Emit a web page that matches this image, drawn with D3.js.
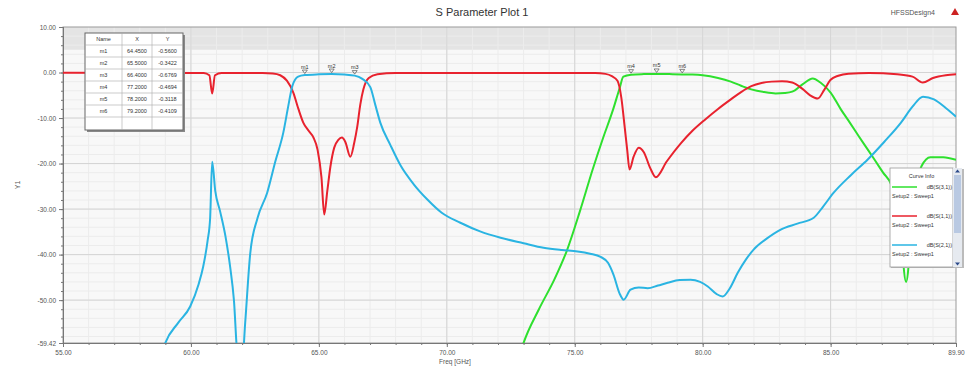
<!DOCTYPE html>
<html>
<head>
<meta charset="utf-8">
<script src="https://cdn.jsdelivr.net/npm/d3@7"></script>
<style>
  body { margin: 0; background: #fff; }
  text { font-family: "Liberation Sans", Arial, sans-serif; }
</style>
</head>
<body>
<svg id="drawspace" width="965" height="373"></svg>
<script>
// curve data: [freq GHz, dB]
const s21 = [[58.8,-63],[59.0,-59.4],[59.5,-55],[59.97,-51.4],[60.3,-46.5],[60.48,-42.6],[60.65,-37],[60.75,-32],[60.83,-19.6],
  [60.95,-26],[61.14,-30.5],[61.35,-36],[61.53,-42.6],[61.68,-50],[61.82,-62],[62.0,-64],[62.12,-55],[62.32,-39.6],
  [62.6,-32],[62.98,-26.4],[63.3,-19.5],[63.61,-13.2],[63.8,-7.5],[63.96,-3],[64.19,-0.9],[64.45,-0.56],[65.0,-0.4],
  [65.5,-0.34],[66.0,-0.45],[66.4,-0.68],[66.7,-1.4],[67.01,-3.2],[67.2,-7],[67.4,-11],[67.8,-16],[68.2,-20.5],
  [68.7,-24.5],[69.24,-27.9],[69.8,-30.8],[70.53,-33],[71.3,-34.9],[72.1,-36.3],[73.0,-37.5],[73.78,-38.5],
  [74.5,-39],[75.11,-39.3],[75.6,-39.8],[76.01,-40.5],[76.3,-41.8],[76.52,-44.5],[76.75,-48.5],[76.91,-49.9],
  [77.18,-47.7],[77.5,-47.2],[77.85,-47.4],[78.25,-46.8],[78.63,-46.2],[79.1,-45.6],[79.53,-45.5],[79.9,-46],
  [80.2,-47],[80.55,-48.7],[80.78,-49.2],[81.05,-47.5],[81.37,-44],[81.7,-41],[81.99,-38.9],[82.5,-36.5],
  [83.05,-34.5],[83.7,-33.2],[84.34,-31.9],[84.7,-29.5],[85.12,-26.4],[85.8,-22.5],[86.45,-19.1],[87.1,-15.2],
  [87.75,-11],[88.2,-7.5],[88.61,-5.3],[89.04,-5.9],[89.5,-7.8],[89.9,-9.7]];

const s11 = [[55,-0.05],[60.5,-0.1],[60.72,-0.6],[60.83,-4.6],[60.94,-0.6],[61.2,-0.1],[62.8,-0.1],[63.2,-0.2],
  [63.49,-0.6],[63.75,-1.8],[64.0,-4.4],[64.2,-8],[64.39,-11],[64.6,-12.8],[64.78,-14.2],[64.95,-17],[65.1,-23],
  [65.21,-31.2],[65.33,-26],[65.45,-20.7],[65.6,-16.5],[65.76,-14.8],[65.9,-14.3],[66.03,-15.2],[66.23,-18.5],
  [66.38,-15.5],[66.5,-11.9],[66.62,-7],[66.74,-3.7],[66.95,-1.2],[67.29,-0.4],[68,-0.1],[75.8,-0.1],[76.2,-0.3],
  [76.45,-0.8],[76.67,-1.8],[76.82,-5.5],[76.95,-11.9],[77.05,-17],[77.14,-21.3],[77.3,-18.5],[77.5,-16.5],
  [77.7,-17.5],[77.95,-21],[78.17,-23],[78.6,-19.5],[79.17,-15.4],[79.6,-12.8],[80.1,-10.3],[80.6,-8],
  [81.1,-5.9],[81.5,-4.3],[81.9,-3.0],[82.3,-2.3],[82.7,-2.0],[83.1,-1.9],[83.5,-2.2],[83.9,-3.6],[84.2,-5],
  [84.5,-5.7],[84.75,-3.8],[85.0,-1.6],[85.3,-0.7],[85.7,-0.25],[86.5,-0.1],[87.6,-0.4],[88.2,-0.9],[88.6,-2.2],
  [89.0,-1.2],[89.5,-0.6],[89.9,-0.4]];

const s31 = [[72.8,-63],[73.0,-59.4],[73.6,-52],[74.2,-45.5],[74.7,-39],[75.2,-30.5],[75.7,-21.3],[76.1,-14.5],
  [76.5,-8.1],[76.75,-3.5],[76.9,-0.9],[77.2,-0.47],[77.7,-0.35],[78.2,-0.31],[78.7,-0.35],[79.2,-0.41],
  [79.6,-0.45],[80.0,-0.6],[80.6,-1.2],[81.1,-2],[81.5,-2.9],[81.9,-3.7],[82.4,-4.3],[82.85,-4.6],[83.2,-4.5],
  [83.5,-4.2],[83.9,-2.6],[84.3,-1.3],[84.6,-2.2],[85.0,-4.4],[85.4,-8.1],[85.75,-11],[86.1,-14],[86.4,-16.5],
  [86.7,-19],[87.05,-22],[87.4,-25],[87.7,-33],[87.95,-46],[88.15,-36],[88.35,-26],[88.55,-20.6],[88.9,-18.6],
  [89.4,-18.6],[89.9,-19.2]];

const curveNames = ["dB(S(3,1))", "dB(S(1,1))", "dB(S(2,1))"];
const curveColors = ["#2ee02e", "#e8222e", "#2ab4e2"];

const markerNames = ["m1", "m2", "m3", "m4", "m5", "m6"];
const markerX = [64.45, 65.5, 66.4, 77.2, 78.2, 79.2];
const markerY = [-0.5600, -0.3422, -0.6769, -0.4694, -0.3118, -0.4109];

const xMajor = [55, 60, 65, 70, 75, 80, 85, 89.9];
const yMajor = [10, 0, -10, -20, -30, -40, -50, -59.42];

let drawSpace = d3.select("#drawspace");

let xScale = d3.scaleLinear().domain([55, 89.9]).range([63, 956]);
let yScale = d3.scaleLinear().domain([-59.42, 10]).range([343, 27]);

const pLeft = 63, pRight = 956, pTop = 27, pBottom = 343;

// plot background
drawSpace.append("rect")
  .attr("x", pLeft).attr("y", pTop).attr("width", pRight - pLeft).attr("height", pBottom - pTop)
  .attr("fill", "#f8f8f8");
drawSpace.append("rect")
  .attr("x", pLeft).attr("y", yScale(10)).attr("width", pRight - pLeft).attr("height", yScale(5) - yScale(10))
  .attr("fill", "#e4e4e4");

// grid lines
let minorX = d3.range(56, 90, 1);
let minorY = d3.range(-58, 10, 2);
drawSpace.append("g").selectAll("line").data(minorX).enter().append("line")
  .attr("x1", d => xScale(d)).attr("x2", d => xScale(d)).attr("y1", pTop).attr("y2", pBottom)
  .attr("stroke", "#ececec").attr("stroke-width", 1);
drawSpace.append("g").selectAll("line").data(minorY).enter().append("line")
  .attr("y1", d => yScale(d)).attr("y2", d => yScale(d)).attr("x1", pLeft).attr("x2", pRight)
  .attr("stroke", "#ececec").attr("stroke-width", 1);
drawSpace.append("g").selectAll("line").data([60, 65, 70, 75, 80, 85]).enter().append("line")
  .attr("x1", d => xScale(d)).attr("x2", d => xScale(d)).attr("y1", pTop).attr("y2", pBottom)
  .attr("stroke", "#d4d4d4").attr("stroke-width", 1);
drawSpace.append("g").selectAll("line").data([0, -10, -20, -30, -40, -50]).enter().append("line")
  .attr("y1", d => yScale(d)).attr("y2", d => yScale(d)).attr("x1", pLeft).attr("x2", pRight)
  .attr("stroke", "#d4d4d4").attr("stroke-width", 1);

drawSpace.append("rect")
  .attr("x", pLeft).attr("y", pTop).attr("width", pRight - pLeft).attr("height", pBottom - pTop)
  .attr("fill", "none").attr("stroke", "#9a9a9a").attr("stroke-width", 1);

// axes
let xAxis = d3.axisBottom(xScale).tickValues(xMajor).tickFormat(d => d.toFixed(2)).tickSize(4).tickPadding(3);
let xMinor = d3.axisBottom(xScale).tickValues(minorX).tickFormat("").tickSize(2);
let yAxis = d3.axisLeft(yScale).tickValues(yMajor).tickFormat(d => d.toFixed(2)).tickSize(4).tickPadding(3);
let yMinor = d3.axisLeft(yScale).tickValues(minorY).tickFormat("").tickSize(2);

[xAxis, xMinor].forEach(a => {
  drawSpace.append("g").attr("transform", `translate(0,${pBottom})`).call(a)
    .call(g => g.select(".domain").attr("stroke", "#777"))
    .call(g => g.selectAll(".tick line").attr("stroke", "#777"))
    .call(g => g.selectAll("text").attr("fill", "#555").style("font-size", "6.5px"));
});
[yAxis, yMinor].forEach(a => {
  drawSpace.append("g").attr("transform", `translate(${pLeft},0)`).call(a)
    .call(g => g.select(".domain").attr("stroke", "#777"))
    .call(g => g.selectAll(".tick line").attr("stroke", "#777"))
    .call(g => g.selectAll("text").attr("fill", "#555").style("font-size", "6.5px"));
});

// titles
drawSpace.append("text").attr("x", 482).attr("y", 16).attr("text-anchor", "middle")
  .style("font-size", "11px").attr("fill", "#333").text("S Parameter Plot 1");
drawSpace.append("text").attr("x", 935).attr("y", 15).attr("text-anchor", "end")
  .style("font-size", "7px").attr("fill", "#555").text("HFSSDesign4");
drawSpace.append("path").attr("d", "M955,8 L959,15 L951,15 Z").attr("fill", "#c22");
drawSpace.append("text").attr("x", 455).attr("y", 364).attr("text-anchor", "middle")
  .style("font-size", "6.5px").attr("fill", "#555").text("Freq [GHz]");
drawSpace.append("text").attr("transform", "translate(20,185) rotate(-90)").attr("text-anchor", "middle")
  .style("font-size", "7px").attr("fill", "#555").text("Y1");

// curves
drawSpace.append("clipPath").attr("id", "plotclip").append("rect")
  .attr("x", pLeft).attr("y", pTop).attr("width", pRight - pLeft).attr("height", pBottom - pTop);

let line = d3.line().x(d => xScale(d[0])).y(d => yScale(d[1])).curve(d3.curveMonotoneX);
let curves = [s31, s11, s21];
let curveG = drawSpace.append("g").attr("clip-path", "url(#plotclip)");
curveG.selectAll("path").data(curves).enter().append("path")
  .attr("d", d => line(d))
  .attr("fill", "none")
  .attr("stroke", (d, i) => curveColors[i])
  .attr("stroke-width", 2)
  .attr("stroke-linejoin", "round");

// markers
let mk = drawSpace.append("g");
markerNames.forEach((name, i) => {
  let px = xScale(markerX[i]), py = yScale(markerY[i]);
  mk.append("path").attr("d", `M${px - 2.5},${py - 5} L${px + 2.5},${py - 5} L${px},${py - 1.5} Z`)
    .attr("fill", "none").attr("stroke", "#555").attr("stroke-width", 0.7);
  mk.append("text").attr("x", px).attr("y", py - 6.5).attr("text-anchor", "middle")
    .style("font-size", "5.5px").attr("fill", "#333").text(name);
});

// marker table
const tX = 85, tY = 33, colW = [37, 30, 31], rowH = 12;
let tableRows = [["Name", "X", "Y"]].concat(markerNames.map((n, i) => [n, markerX[i].toFixed(4), markerY[i].toFixed(4)]));
tableRows.push(["", "", ""]);
let tW = d3.sum(colW), tH = rowH * tableRows.length + 1;
let tbl = drawSpace.append("g");
tbl.append("rect").attr("x", tX + 2).attr("y", tY + 2).attr("width", tW).attr("height", tH).attr("fill", "#888");
tbl.append("rect").attr("x", tX).attr("y", tY).attr("width", tW).attr("height", tH)
  .attr("fill", "#fff").attr("stroke", "#666").attr("stroke-width", 1);
tableRows.forEach((r, ri) => {
  if (ri > 0) tbl.append("line").attr("x1", tX).attr("x2", tX + tW)
    .attr("y1", tY + ri * rowH).attr("y2", tY + ri * rowH).attr("stroke", "#aaa").attr("stroke-width", 0.6);
  let cx = tX;
  r.forEach((c, ci) => {
    tbl.append("text").attr("x", cx + colW[ci] / 2).attr("y", tY + ri * rowH + 8.3)
      .attr("text-anchor", "middle").style("font-size", "5.5px").attr("fill", "#333").text(c);
    cx += colW[ci];
  });
});
[colW[0], colW[0] + colW[1]].forEach(o => {
  tbl.append("line").attr("x1", tX + o).attr("x2", tX + o).attr("y1", tY).attr("y2", tY + tH)
    .attr("stroke", "#aaa").attr("stroke-width", 0.6);
});

// curve info legend
const lX = 890, lY = 168, lW = 63, lH = 99;
let lg = drawSpace.append("g");
lg.append("rect").attr("x", lX + 1).attr("y", lY + 1).attr("width", lW + 10).attr("height", lH).attr("fill", "#bbb");
lg.append("rect").attr("x", lX).attr("y", lY).attr("width", lW).attr("height", lH)
  .attr("fill", "#fff").attr("stroke", "#999").attr("stroke-width", 0.8);
lg.append("rect").attr("x", lX + lW).attr("y", lY).attr("width", 9).attr("height", lH).attr("fill", "#e6eaf0");
lg.append("rect").attr("x", lX + lW + 1).attr("y", lY + 7).attr("width", 7).attr("height", 58).attr("fill", "#b9c9e2");
lg.append("path").attr("d", `M${lX + lW + 4.5},${lY + 1.5} L${lX + lW + 7},${lY + 4.5} L${lX + lW + 2},${lY + 4.5} Z`).attr("fill", "#2c4a8a");
lg.append("path").attr("d", `M${lX + lW + 4.5},${lY + lH - 1.5} L${lX + lW + 7},${lY + lH - 4.5} L${lX + lW + 2},${lY + lH - 4.5} Z`).attr("fill", "#2c4a8a");
lg.append("text").attr("x", lX + lW / 2).attr("y", lY + 10).attr("text-anchor", "middle")
  .style("font-size", "5.5px").attr("fill", "#333").text("Curve Info");
curveNames.forEach((n, i) => {
  let ly = lY + 19 + i * 29;
  lg.append("line").attr("x1", lX + 2).attr("x2", lX + 27).attr("y1", ly).attr("y2", ly)
    .attr("stroke", curveColors[i]).attr("stroke-width", 1.5);
  lg.append("text").attr("x", lX + lW - 1).attr("y", ly + 2).attr("text-anchor", "end")
    .style("font-size", "5.5px").attr("fill", "#333").text(n);
  lg.append("text").attr("x", lX + 2).attr("y", ly + 11)
    .style("font-size", "5.5px").attr("fill", "#333").text("Setup2 : Sweep1");
});
</script>
</body>
</html>
